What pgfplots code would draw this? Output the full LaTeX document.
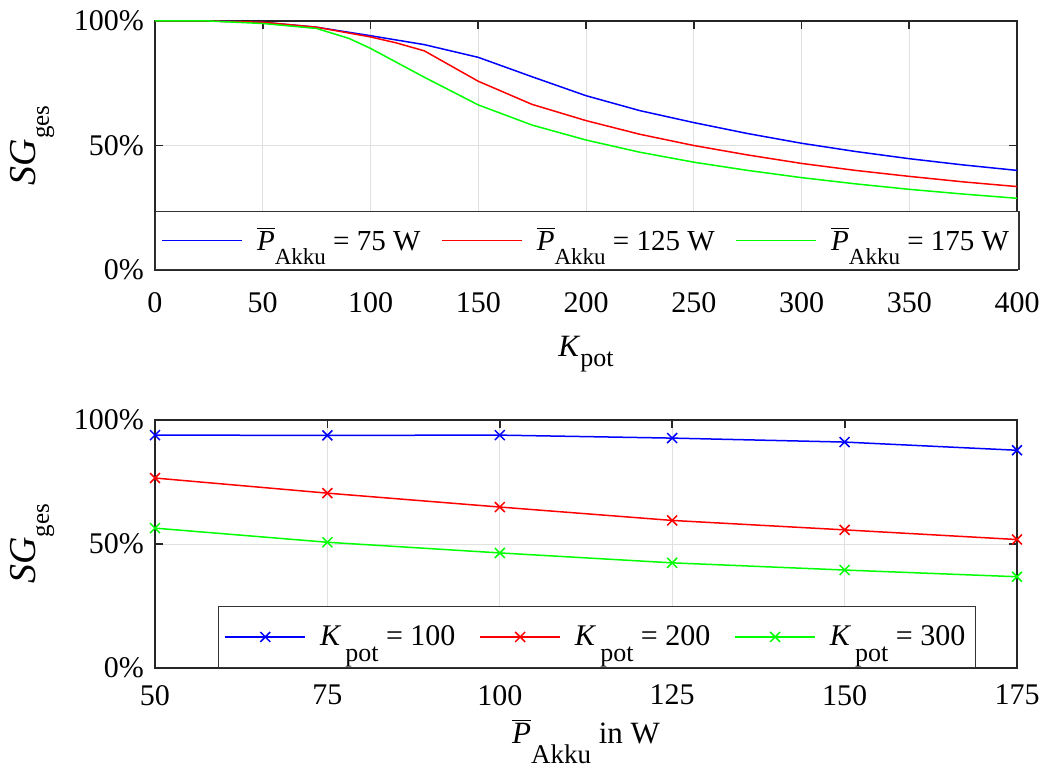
\documentclass[border=0pt]{standalone}
\usepackage{fontspec}
\setmainfont{Liberation Serif}
\usepackage{pgfplots}
\pgfplotsset{compat=1.18}

\definecolor{mblue}{rgb}{0,0,1}
\definecolor{mred}{rgb}{1,0,0}
\definecolor{mgreen}{rgb}{0,1,0}

% lowered subscript: #1 shift, #2 size, #3 text
\newcommand{\lo}[3]{\raisebox{-#1}{\fontsize{#2}{#2}\selectfont #3}}
\newcommand{\Pbar}{$\overline{\mbox{\textit{P}}}$}

\pgfplotsset{
  mstyle/.style={
    scale only axis,
    width=431pt,
    ymin=0, ymax=1,
    ytick={0,0.5,1},
    yticklabels={0\%,50\%,100\%},
    grid=major,
    grid style={black!12, line width=0.5pt},
    axis line style={line width=0.9pt, black!85},
    major tick style={line width=0.9pt, black!85},
    major tick length=4pt,
    tick align=inside,
    /pgf/number format/assume math mode=true,
    ticklabel style={font=\fontsize{15}{17}\selectfont},
    yticklabel style={xshift=-2pt},
    xlabel style={font=\fontsize{15.5}{18}\selectfont},
    ylabel style={font=\fontsize{19}{21}\selectfont, yshift=3pt},
    legend columns=3,
    legend cell align=left,
  },
}

\begin{document}
\begin{tikzpicture}
\path[use as bounding box] (-77.5pt,10.5pt) rectangle (444pt,-374pt);

\begin{axis}[mstyle,
  at={(0,0)}, anchor=north west,
  height=124.5pt,
  xmin=0, xmax=400,
  xtick={0,50,...,400},
  xticklabel style={yshift=-7.5pt},
  xlabel style={yshift=-5pt},
  xlabel={\textit{K}\lo{5pt}{13}{pot}},
  ylabel={\textit{SG}\lo{6.5pt}{12.5}{ges}},
  legend style={at={(0,0)}, anchor=south west,
    font=\fontsize{14.5}{16}\selectfont, draw=black!80, line width=0.6pt,
    fill=white, inner xsep=3pt, inner ysep=6pt,
    /tikz/every odd column/.append style={column sep=5pt},
    /tikz/every even column/.append style={column sep=8.5pt}},
  legend image code/.code={\draw[#1] (0pt,0pt) -- (40pt,0pt);},
]
\addplot[mblue, line width=0.75pt] coordinates {
 (0,1) (25,1) (50,0.995) (75,0.975) (100,0.941) (125,0.905) (150,0.854)
 (175,0.776) (200,0.700) (225,0.640) (250,0.592) (275,0.548) (300,0.509)
 (325,0.476) (350,0.447) (375,0.422) (400,0.400)};
\addplot[mred, line width=0.75pt] coordinates {
 (0,1) (25,1) (50,0.995) (75,0.975) (100,0.936) (112,0.912) (125,0.880) (150,0.758)
 (175,0.665) (200,0.600) (225,0.545) (250,0.500) (275,0.462) (300,0.428)
 (325,0.400) (350,0.376) (375,0.354) (400,0.335)};
\addplot[mgreen, line width=0.75pt] coordinates {
 (0,1) (25,1) (50,0.990) (75,0.970) (90,0.930) (100,0.890) (125,0.774) (150,0.663)
 (175,0.582) (200,0.522) (225,0.473) (250,0.433) (275,0.400) (300,0.371)
 (325,0.346) (350,0.324) (375,0.305) (400,0.288)};
\legend{\Pbar\lo{7pt}{11.5}{Akku} = 75 W, \Pbar\lo{7pt}{11.5}{Akku} = 125 W, \Pbar\lo{7pt}{11.5}{Akku} = 175 W}
\end{axis}

\begin{axis}[mstyle,
  at={(0,-199.5pt)}, anchor=north west,
  height=124pt,
  xmin=50, xmax=175,
  xtick={50,75,...,175},
  xticklabel style={yshift=-5pt},
  xlabel={\Pbar\lo{10pt}{13.5}{Akku} in W},
  ylabel={\textit{SG}\lo{6.5pt}{12.5}{ges}},
  legend style={at={(0.073,0)}, anchor=south west,
    font=\fontsize{15}{17}\selectfont, draw=black!80, line width=0.6pt,
    fill=white, inner xsep=3pt, inner ysep=7.5pt,
    /tikz/every odd column/.append style={column sep=5pt},
    /tikz/every even column/.append style={column sep=10pt}},
  legend image code/.code={\draw[mark repeat=2,mark phase=2,#1] plot coordinates {(0pt,0pt) (20pt,0pt) (40pt,0pt)};},
]
\addplot[mblue, line width=0.75pt, mark=x, mark size=3.5pt] coordinates {
 (50,0.939) (75,0.938) (100,0.939) (125,0.927) (150,0.911) (175,0.878)};
\addplot[mred, line width=0.75pt, mark=x, mark size=3.5pt] coordinates {
 (50,0.766) (75,0.705) (100,0.649) (125,0.595) (150,0.557) (175,0.518)};
\addplot[mgreen, line width=0.75pt, mark=x, mark size=3.5pt] coordinates {
 (50,0.564) (75,0.507) (100,0.464) (125,0.424) (150,0.395) (175,0.368)};
\legend{\textit{K}\kern2pt\lo{8pt}{13}{pot} = 100, \textit{K}\kern2pt\lo{8pt}{13}{pot} = 200, \textit{K}\kern2pt\lo{8pt}{13}{pot} = 300}
\end{axis}
\end{tikzpicture}
\end{document}
